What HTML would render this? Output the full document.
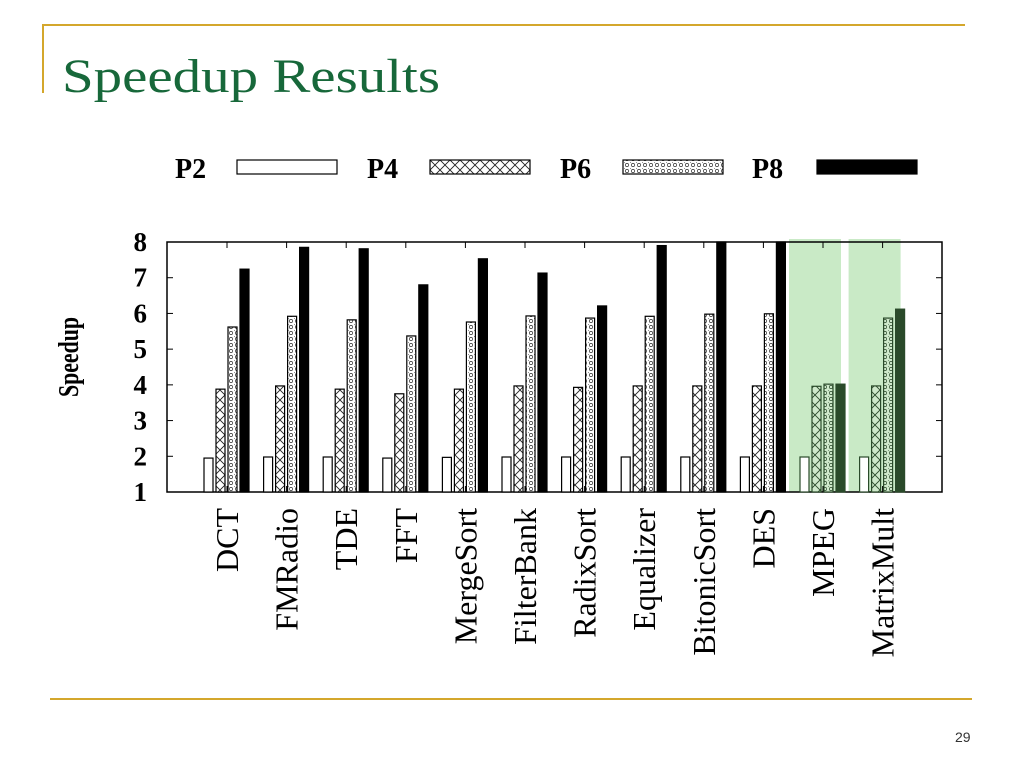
<!DOCTYPE html>
<html><head><meta charset="utf-8"><style>
html,body{margin:0;padding:0;background:#fff}
svg{display:block}
</style></head><body>
<svg id="s" width="1024" height="768" viewBox="0 0 1024 768" xmlns="http://www.w3.org/2000/svg">
<defs>
<pattern id="px" width="10" height="10" patternUnits="userSpaceOnUse"><rect width="10" height="10" fill="#fff"/><path d="M0 0L10 10M10 0L0 10" stroke="#222" stroke-width="0.9"/></pattern>
<pattern id="pd" width="6" height="6" patternUnits="userSpaceOnUse"><rect width="6" height="6" fill="#fff"/><circle cx="3" cy="3" r="1.6" fill="none" stroke="#333" stroke-width="0.7"/><circle cx="0" cy="0" r="0.8" fill="#222"/></pattern>
<pattern id="pxg" width="10" height="10" patternUnits="userSpaceOnUse"><rect width="10" height="10" fill="#cfe9cb"/><path d="M0 0L10 10M10 0L0 10" stroke="#2a4a2a" stroke-width="0.9"/></pattern>
<pattern id="pdg" width="6" height="6" patternUnits="userSpaceOnUse"><rect width="6" height="6" fill="#cfe9cb"/><circle cx="3" cy="3" r="1.6" fill="none" stroke="#2a4a2a" stroke-width="0.7"/><circle cx="0" cy="0" r="0.8" fill="#2a4a2a"/></pattern>
</defs>
<line x1="42" y1="25" x2="965" y2="25" stroke="#d4a72c" stroke-width="2"/>
<line x1="43" y1="25" x2="43" y2="93" stroke="#d4a72c" stroke-width="2"/>
<line x1="50" y1="699" x2="972" y2="699" stroke="#d4a72c" stroke-width="2"/>
<text x="62" y="92" font-family="Liberation Serif, serif" font-size="48" fill="#17683a" textLength="378" lengthAdjust="spacingAndGlyphs">Speedup Results</text>
<text x="955" y="742" font-family="Liberation Sans, sans-serif" font-size="14" fill="#333">29</text>
<g id="legend" font-family="Liberation Serif, serif" font-weight="bold" font-size="28"></g>
<g id="chart"></g>
<text transform="translate(78,357) rotate(-90)" text-anchor="middle" font-family="Liberation Serif, serif" font-weight="bold" font-size="28" textLength="80" lengthAdjust="spacingAndGlyphs">Speedup</text>
</svg>
<script>
const categories=["DCT","FMRadio","TDE","FFT","MergeSort","FilterBank","RadixSort","Equalizer","BitonicSort","DES","MPEG","MatrixMult"];
const p2=[1.95,1.98,1.98,1.95,1.97,1.98,1.98,1.98,1.98,1.98,1.98,1.98];
const p4=[3.88,3.97,3.88,3.75,3.88,3.97,3.93,3.97,3.97,3.97,3.96,3.97];
const p6=[5.62,5.92,5.82,5.37,5.76,5.93,5.87,5.92,5.98,5.99,4.02,5.87];
const p8=[7.24,7.85,7.81,6.8,7.53,7.13,6.21,7.9,8.0,8.0,4.02,6.12];
const yTicks=[1,2,3,4,5,6,7,8];
const highlighted=["MPEG","MatrixMult"];
const seriesNames=["P2","P4","P6","P8"];
const NS="http://www.w3.org/2000/svg";
const L=167,R=942,T=242,B=492;
const y=v=>B-(v-1)*(B-T)/7;
const xc=i=>227+i*59.6;
const chart=document.getElementById('chart');
function mk(tag,at,parent){const e=document.createElementNS(NS,tag);for(const k in at)e.setAttribute(k,at[k]);(parent||chart).appendChild(e);return e;}
// highlights
categories.forEach((c,i)=>{if(highlighted.includes(c)){
 const h=mk('rect',{x:xc(i)-34,y:239,width:52,height:B-239,fill:'#c9eac6'});
 
 
}});
// axes frame
const fr=mk('rect',{x:L,y:T,width:R-L,height:B-T,fill:'none',stroke:'#000','stroke-width':1.5});


yTicks.forEach(t=>{
 mk('line',{x1:L,y1:y(t),x2:L+6,y2:y(t),stroke:'#000'});
 mk('line',{x1:R-6,y1:y(t),x2:R,y2:y(t),stroke:'#000'});
 const tx=mk('text',{x:147,y:y(t)+9,'text-anchor':'end','font-family':'Liberation Serif, serif','font-weight':'bold','font-size':27});
 tx.textContent=t;
 
 
});
const series=[p2,p4,p6,p8];
categories.forEach((c,i)=>{
 const hl=highlighted.includes(c);
 mk('line',{x1:xc(i),y1:T,x2:xc(i),y2:T+6,stroke:'#000'});
 mk('line',{x1:xc(i),y1:B,x2:xc(i),y2:B-6,stroke:'#000'});
 const fills=hl?['#fff','url(#pxg)','url(#pdg)','#2a4a2a']:['#fff','url(#px)','url(#pd)','#000'];
 const st=hl?'#2a4a2a':'#000';
 series.forEach((s,k)=>{
  const x0=xc(i)-23+k*12;
  const b=mk('rect',{x:x0,y:y(s[i]),width:9,height:B-y(s[i]),fill:fills[k],stroke:st,'stroke-width':1.2});
  
  
 });
 const lb=mk('text',{transform:`translate(${xc(i)+11},508) rotate(-90)`,'text-anchor':'end','font-family':'Liberation Serif, serif','font-size':32});
 lb.textContent=c;
 
 
});
// legend
const lg=document.getElementById('legend');
const lx=[[175,237],[367,430],[560,623],[752,817]];
const lf=['#fff','url(#px)','url(#pd)','#000'];
seriesNames.forEach((n,k)=>{
 const t=mk('text',{x:lx[k][0],y:178},lg);t.textContent=n;
 
 
 const r=mk('rect',{x:lx[k][1],y:160,width:100,height:14,fill:lf[k],stroke:'#000','stroke-width':1.2},lg);
 
 
});
</script>
</body></html>
